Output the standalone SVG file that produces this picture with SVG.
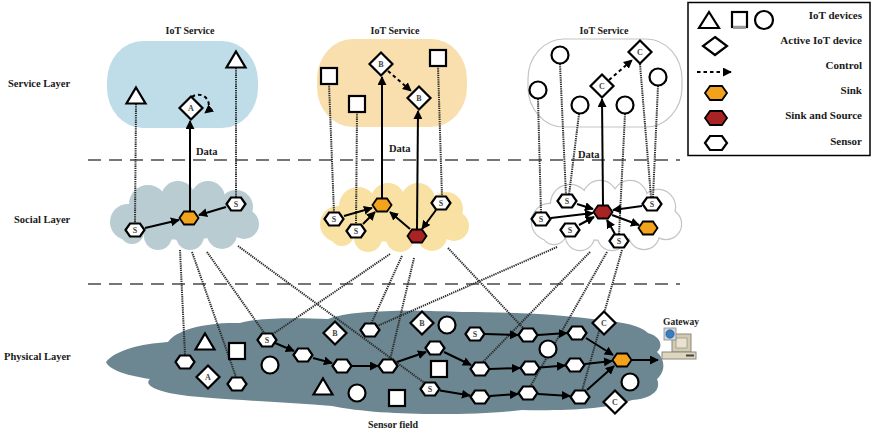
<svg xmlns="http://www.w3.org/2000/svg" width="874" height="436" viewBox="0 0 874 436">
<style>
 text{font-family:"Liberation Serif","Times New Roman",serif;font-weight:bold;fill:#1a1a1a}
 .t{font-size:10.5px}
 .tr{font-size:11px;text-anchor:end}
 .tc{font-size:10px;text-anchor:middle}
 .k{font-size:8px;text-anchor:middle;dominant-baseline:central;fill:#444}
 .dev{fill:#fff;stroke:#000;stroke-width:2.2}
 .sensor{fill:#fff;stroke:#000;stroke-width:2.2}
 .sink{fill:#f2a31b;stroke:#000;stroke-width:1.8}
 .src{fill:#a82323;stroke:#000;stroke-width:1.8}
 .dot{fill:none;stroke:#2a2a2a;stroke-width:2;stroke-dasharray:1.3 0.9}
 .arr{fill:none;stroke:#000;stroke-width:2;marker-end:url(#ah)}
 .ctl{fill:none;stroke:#000;stroke-width:2;stroke-dasharray:3.5 3;marker-end:url(#ah)}
 .sep{stroke:#4a4a4a;stroke-width:1.6;stroke-dasharray:13 8}
</style>
<defs>
 <marker id="ah" viewBox="0 0 10 10" refX="9" refY="5" markerWidth="9" markerHeight="9" markerUnits="userSpaceOnUse" orient="auto">
  <path d="M0,0 L10,5 L0,10 z" fill="#000"/>
 </marker>
 <polygon id="hx" points="-9.5,0 -5,-6.5 5,-6.5 9.5,0 5,6.5 -5,6.5"/>
 <polygon id="dm" points="0,-11.5 11.5,0 0,11.5 -11.5,0"/>
 <polygon id="tri" points="0,-8.5 9.5,7.5 -9.5,7.5"/>
 <rect id="sq" x="-8" y="-8" width="16" height="16"/>
 <circle id="ci" r="8.5"/>
 <g id="cloud">
  <circle cx="128" cy="222" r="18"/>
  <circle cx="148" cy="204" r="19"/>
  <circle cx="178" cy="198" r="17"/>
  <circle cx="208" cy="198" r="17"/>
  <circle cx="236" cy="207" r="17"/>
  <circle cx="244" cy="224" r="15"/>
  <circle cx="222" cy="234" r="15"/>
  <circle cx="190" cy="236" r="14"/>
  <circle cx="158" cy="236" r="14"/>
  <circle cx="132" cy="232" r="12"/>
  <ellipse cx="185" cy="218" rx="58" ry="22"/>
 </g>
</defs>

<!-- layer names -->
<text class="t" x="8" y="87">Service Layer</text>
<text class="t" x="14" y="223">Social Layer</text>
<text class="t" x="4" y="360">Physical Layer</text>

<!-- layer separators -->
<line class="sep" x1="88" y1="160" x2="680" y2="160"/>
<line class="sep" x1="88" y1="284" x2="680" y2="284"/>

<!-- service areas -->
<g id="service-a">
 <rect x="107" y="41" width="151" height="87" rx="36" ry="40" fill="#bfdde9"/>
 <text class="tc" x="190" y="34">IoT Service</text>
</g>
<g id="service-b">
 <rect x="317" y="39" width="150" height="88" rx="36" ry="40" fill="#f8dfad"/>
 <text class="tc" x="395" y="34">IoT Service</text>
</g>
<g id="service-c">
 <rect x="528" y="39" width="154" height="88" rx="36" ry="40" fill="#fff" stroke="#c4c4c4" stroke-width="1.2"/>
 <text class="tc" x="604" y="34">IoT Service</text>
</g>

<!-- social clouds -->
<g id="social-a"><use href="#cloud" fill="#b8ccd2"/></g>
<g id="social-b"><use href="#cloud" x="210" y="2" fill="#f8e1a2"/></g>
<g id="social-c">
 <use href="#cloud" x="422" fill="none" stroke="#c4c4c4" stroke-width="2.4"/>
 <use href="#cloud" x="422" fill="#fff"/>
</g>

<!-- sensor field -->
<g id="sensor-field">
 <path d="M106,362 C116,350 140,344 168,342 C176,330 205,322 240,323 C262,317 300,318 328,319 C352,309 420,310 462,312 C520,312 565,315 600,320 C622,322 640,325 648,333 C660,336 664,346 657,352 C666,360 665,372 657,379 C662,391 650,399 632,400 C612,409 562,411 522,410 C470,416 380,416 332,406 C292,403 250,401 200,397 C162,394 142,386 150,379 C130,376 110,371 106,362 Z" fill="#6c8791"/>
 <text class="tc" x="393" y="428">Sensor field</text>
</g>

<g id="connectors">
 <!-- service to social -->
 <line class="dot" x1="136" y1="104" x2="135" y2="223"/>
 <line class="dot" x1="236" y1="68" x2="236" y2="197"/>
 <line class="arr" x1="190" y1="211" x2="190" y2="121"/>
 <path class="ctl" d="M192,97 A10,10 0 1 1 205,113"/>

 <line class="dot" x1="329" y1="84" x2="334" y2="213"/>
 <line class="dot" x1="357" y1="112" x2="356" y2="225"/>
 <line class="dot" x1="438" y1="66" x2="442" y2="197"/>
 <line class="arr" x1="382" y1="198" x2="382" y2="77"/>
 <line class="arr" x1="417" y1="229" x2="418" y2="111"/>
 <line class="ctl" x1="388" y1="71" x2="411" y2="91"/>

 <line class="dot" x1="538" y1="99" x2="541" y2="213"/>
 <line class="dot" x1="560" y1="64" x2="566" y2="195"/>
 <line class="dot" x1="579" y1="114" x2="569" y2="195"/>
 <line class="dot" x1="625" y1="114" x2="619" y2="235"/>
 <line class="dot" x1="640" y1="64" x2="651" y2="197"/>
 <line class="dot" x1="658" y1="86" x2="653" y2="197"/>
 <line class="arr" x1="603" y1="205" x2="602" y2="99"/>
 <line class="ctl" x1="609" y1="80" x2="632" y2="60"/>

 <!-- inside social clouds -->
 <line class="arr" x1="145" y1="228" x2="179" y2="220"/>
 <line class="arr" x1="226" y1="207" x2="199" y2="215"/>
 <line class="arr" x1="344" y1="216" x2="372" y2="208"/>
 <line class="arr" x1="363" y1="224" x2="375" y2="212"/>
 <line class="arr" x1="410" y1="229" x2="390" y2="212"/>
 <line class="arr" x1="436" y1="210" x2="422" y2="229"/>
 <line class="arr" x1="577" y1="204" x2="593" y2="209"/>
 <line class="arr" x1="551" y1="218" x2="593" y2="213"/>
 <line class="arr" x1="579" y1="225" x2="594" y2="217"/>
 <line class="arr" x1="615" y1="234" x2="607" y2="220"/>
 <line class="arr" x1="642" y1="206" x2="613" y2="210"/>
 <line class="arr" x1="612" y1="215" x2="639" y2="225"/>

 <!-- social to physical -->
 <line class="dot" x1="180" y1="250" x2="185" y2="355"/>
 <line class="dot" x1="192" y1="252" x2="236" y2="377"/>
 <line class="dot" x1="207" y1="252" x2="265" y2="334"/>
 <line class="dot" x1="238" y1="246" x2="426" y2="384"/>
 <line class="dot" x1="390" y1="254" x2="270" y2="336"/>
 <line class="dot" x1="402" y1="256" x2="371" y2="324"/>
 <line class="dot" x1="414" y1="258" x2="390" y2="360"/>
 <line class="dot" x1="448" y1="248" x2="525" y2="330"/>
 <line class="dot" x1="557" y1="247" x2="375" y2="327"/>
 <line class="dot" x1="590" y1="252" x2="482" y2="363"/>
 <line class="dot" x1="607" y1="252" x2="530" y2="387"/>
 <line class="dot" x1="622" y1="250" x2="582" y2="391"/>

 <!-- sensor field paths -->
 <line class="arr" x1="275" y1="343" x2="294" y2="351"/>
 <line class="arr" x1="313" y1="358" x2="332" y2="363"/>
 <line class="arr" x1="352" y1="366" x2="378" y2="366"/>
 <line class="arr" x1="397" y1="362" x2="426" y2="352"/>
 <line class="arr" x1="444" y1="352" x2="471" y2="365"/>
 <line class="arr" x1="490" y1="369" x2="520" y2="368"/>
 <line class="arr" x1="540" y1="367.5" x2="565" y2="365.5"/>
 <line class="arr" x1="585" y1="364" x2="612" y2="361"/>
 <line class="arr" x1="485" y1="334" x2="518" y2="335"/>
 <line class="arr" x1="538" y1="335" x2="567" y2="333"/>
 <line class="arr" x1="586" y1="338" x2="613" y2="355"/>
 <line class="arr" x1="440" y1="390.5" x2="470" y2="395.5"/>
 <line class="arr" x1="490" y1="396" x2="518" y2="394"/>
 <line class="arr" x1="538" y1="394" x2="570" y2="396"/>
 <line class="arr" x1="587" y1="390" x2="614" y2="366"/>
 <line class="arr" x1="632" y1="360" x2="658" y2="360"/>
</g>

<!-- service nodes -->
<g id="svc-a-tri1"><use href="#tri" x="136" y="96" class="dev"/></g>
<g id="svc-a-tri2"><use href="#tri" x="236" y="60" class="dev"/></g>
<g id="svc-a-act"><use href="#dm" x="191" y="108" class="dev"/><text class="k" x="191" y="108">A</text></g>
<g id="svc-b-sq1"><use href="#sq" x="329" y="76" class="dev"/></g>
<g id="svc-b-sq2"><use href="#sq" x="357" y="104" class="dev"/></g>
<g id="svc-b-sq3"><use href="#sq" x="438" y="58" class="dev"/></g>
<g id="svc-b-act1"><use href="#dm" x="381" y="64" class="dev"/><text class="k" x="381" y="64">B</text></g>
<g id="svc-b-act2"><use href="#dm" x="419" y="98" class="dev"/><text class="k" x="419" y="98">B</text></g>
<g id="svc-c-ci1"><use href="#ci" x="538" y="90" class="dev"/></g>
<g id="svc-c-ci2"><use href="#ci" x="560" y="55" class="dev"/></g>
<g id="svc-c-ci3"><use href="#ci" x="580" y="105" class="dev"/></g>
<g id="svc-c-ci4"><use href="#ci" x="625" y="105" class="dev"/></g>
<g id="svc-c-ci5"><use href="#ci" x="658" y="77" class="dev"/></g>
<g id="svc-c-act1"><use href="#dm" x="602" y="86" class="dev"/><text class="k" x="602" y="86">C</text></g>
<g id="svc-c-act2"><use href="#dm" x="640" y="52" class="dev"/><text class="k" x="640" y="52">C</text></g>

<!-- data labels -->
<text class="t" x="196" y="155">Data</text>
<text class="t" x="389" y="152">Data</text>
<text class="t" x="578" y="158">Data</text>

<!-- social nodes -->
<g id="soc-a-s1"><use href="#hx" x="135" y="230" class="sensor"/><text class="k" x="135" y="230">S</text></g>
<g id="soc-a-s2"><use href="#hx" x="236" y="204" class="sensor"/><text class="k" x="236" y="204">S</text></g>
<g id="soc-a-sink"><use href="#hx" x="189" y="218" class="sink"/></g>
<g id="soc-b-s1"><use href="#hx" x="334" y="219" class="sensor"/><text class="k" x="334" y="219">S</text></g>
<g id="soc-b-s2"><use href="#hx" x="356" y="231" class="sensor"/><text class="k" x="356" y="231">S</text></g>
<g id="soc-b-s3"><use href="#hx" x="441" y="203" class="sensor"/><text class="k" x="441" y="203">S</text></g>
<g id="soc-b-sink"><use href="#hx" x="382" y="205" class="sink"/></g>
<g id="soc-b-src"><use href="#hx" x="417" y="236" class="src"/></g>
<g id="soc-c-s1"><use href="#hx" x="567" y="201" class="sensor"/><text class="k" x="567" y="201">S</text></g>
<g id="soc-c-s2"><use href="#hx" x="541" y="219" class="sensor"/><text class="k" x="541" y="219">S</text></g>
<g id="soc-c-s3"><use href="#hx" x="570" y="230" class="sensor"/><text class="k" x="570" y="230">S</text></g>
<g id="soc-c-s4"><use href="#hx" x="619" y="241" class="sensor"/><text class="k" x="619" y="241">S</text></g>
<g id="soc-c-s5"><use href="#hx" x="652" y="204" class="sensor"/><text class="k" x="652" y="204">S</text></g>
<g id="soc-c-src"><use href="#hx" x="603" y="212" class="src"/></g>
<g id="soc-c-sink"><use href="#hx" x="648" y="228" class="sink"/></g>

<!-- physical nodes -->
<g id="phy-hex1"><use href="#hx" x="185" y="362" class="sensor"/></g>
<g id="phy-tri1"><use href="#tri" x="205" y="342" class="dev"/></g>
<g id="phy-actA"><use href="#dm" x="208" y="377" class="dev"/><text class="k" x="208" y="377">A</text></g>
<g id="phy-sq1"><use href="#sq" x="237" y="351" class="dev"/></g>
<g id="phy-hex2"><use href="#hx" x="237" y="384" class="sensor"/></g>
<g id="phy-s1"><use href="#hx" x="267" y="340" class="sensor"/><text class="k" x="267" y="340">S</text></g>
<g id="phy-ci1"><use href="#ci" x="270" y="365" class="dev"/></g>
<g id="phy-hex3"><use href="#hx" x="303" y="355" class="sensor"/></g>
<g id="phy-tri2"><use href="#tri" x="323" y="387" class="dev"/></g>
<g id="phy-actB1"><use href="#dm" x="335" y="333" class="dev"/><text class="k" x="335" y="333">B</text></g>
<g id="phy-hex4"><use href="#hx" x="370" y="330" class="sensor"/></g>
<g id="phy-hex5"><use href="#hx" x="342" y="366" class="sensor"/></g>
<g id="phy-ci2"><use href="#ci" x="357" y="393" class="dev"/></g>
<g id="phy-hex6"><use href="#hx" x="388" y="366" class="sensor"/></g>
<g id="phy-sq2"><use href="#sq" x="397" y="398" class="dev"/></g>
<g id="phy-actB2"><use href="#dm" x="422" y="323" class="dev"/><text class="k" x="422" y="323">B</text></g>
<g id="phy-ci3"><use href="#ci" x="447" y="325" class="dev"/></g>
<g id="phy-s2"><use href="#hx" x="475" y="334" class="sensor"/><text class="k" x="475" y="334">S</text></g>
<g id="phy-hex7"><use href="#hx" x="435" y="348" class="sensor"/></g>
<g id="phy-sq3"><use href="#sq" x="439" y="369" class="dev"/></g>
<g id="phy-hex8"><use href="#hx" x="480" y="369" class="sensor"/></g>
<g id="phy-s3"><use href="#hx" x="430" y="389" class="sensor"/><text class="k" x="430" y="389">S</text></g>
<g id="phy-hex9"><use href="#hx" x="480" y="397" class="sensor"/></g>
<g id="phy-hex10"><use href="#hx" x="528" y="335" class="sensor"/></g>
<g id="phy-hex11"><use href="#hx" x="577" y="333" class="sensor"/></g>
<g id="phy-actC1"><use href="#dm" x="604" y="323" class="dev"/><text class="k" x="604" y="323">C</text></g>
<g id="phy-ci4"><use href="#ci" x="548" y="349" class="dev"/></g>
<g id="phy-hex12"><use href="#hx" x="530" y="368" class="sensor"/></g>
<g id="phy-hex13"><use href="#hx" x="575" y="365" class="sensor"/></g>
<g id="phy-sink"><use href="#hx" x="622" y="360" class="sink"/></g>
<g id="phy-ci5"><use href="#ci" x="630" y="382" class="dev"/></g>
<g id="phy-hex14"><use href="#hx" x="528" y="393" class="sensor"/></g>
<g id="phy-hex15"><use href="#hx" x="580" y="397" class="sensor"/></g>
<g id="phy-actC2"><use href="#dm" x="615" y="402" class="dev"/><text class="k" x="615" y="402">C</text></g>

<!-- gateway computer -->
<g id="gateway">
 <text class="tc" x="681" y="325" style="font-size:9.5px">Gateway</text>
 <rect x="672" y="334" width="19" height="18" fill="#d3cab0" stroke="#8a8a80" stroke-width="1"/>
 <rect x="676" y="338" width="11" height="10" fill="#e8e2cf" stroke="#9a9a90" stroke-width="0.8"/>
 <rect x="664" y="328" width="12" height="12" fill="#cdd8de" stroke="#8a8a8a" stroke-width="0.8"/>
 <circle cx="670" cy="334" r="4.2" fill="#3a7cc2" stroke="#1f4f80" stroke-width="0.6"/>
 <rect x="662" y="352" width="34" height="7" fill="#ddd5bc" stroke="#8a8a80" stroke-width="1"/>
 <rect x="686" y="354.5" width="8" height="2" fill="#444"/>
</g>

<!-- legend -->
<g id="legend">
 <rect x="688" y="2.5" width="182" height="153" fill="#fff" stroke="#000" stroke-width="1.5"/>
 <polygon points="709,12 719,28 699,28" class="dev"/>
 <rect x="732" y="12" width="15" height="15" class="dev"/>
 <rect x="733" y="26" width="13" height="3" fill="#999"/>
 <circle cx="764" cy="20" r="9" class="dev"/>
 <text class="tr" x="862" y="19">IoT devices</text>
 <polygon points="715,37 727,46 715,55 703,46" class="dev"/>
 <text class="tr" x="862" y="44">Active IoT device</text>
 <line class="ctl" x1="697" y1="72" x2="731" y2="72"/>
 <text class="tr" x="862" y="69">Control</text>
 <polygon points="705,93 710,86 722,86 727,93 722,100 710,100" class="sink"/>
 <text class="tr" x="862" y="94">Sink</text>
 <polygon points="705,118 710,111 722,111 727,118 722,125 710,125" class="src"/>
 <text class="tr" x="862" y="119">Sink and Source</text>
 <polygon points="705,143 710,136 722,136 727,143 722,150 710,150" class="sensor"/>
 <text class="tr" x="862" y="145">Sensor</text>
</g>
</svg>
